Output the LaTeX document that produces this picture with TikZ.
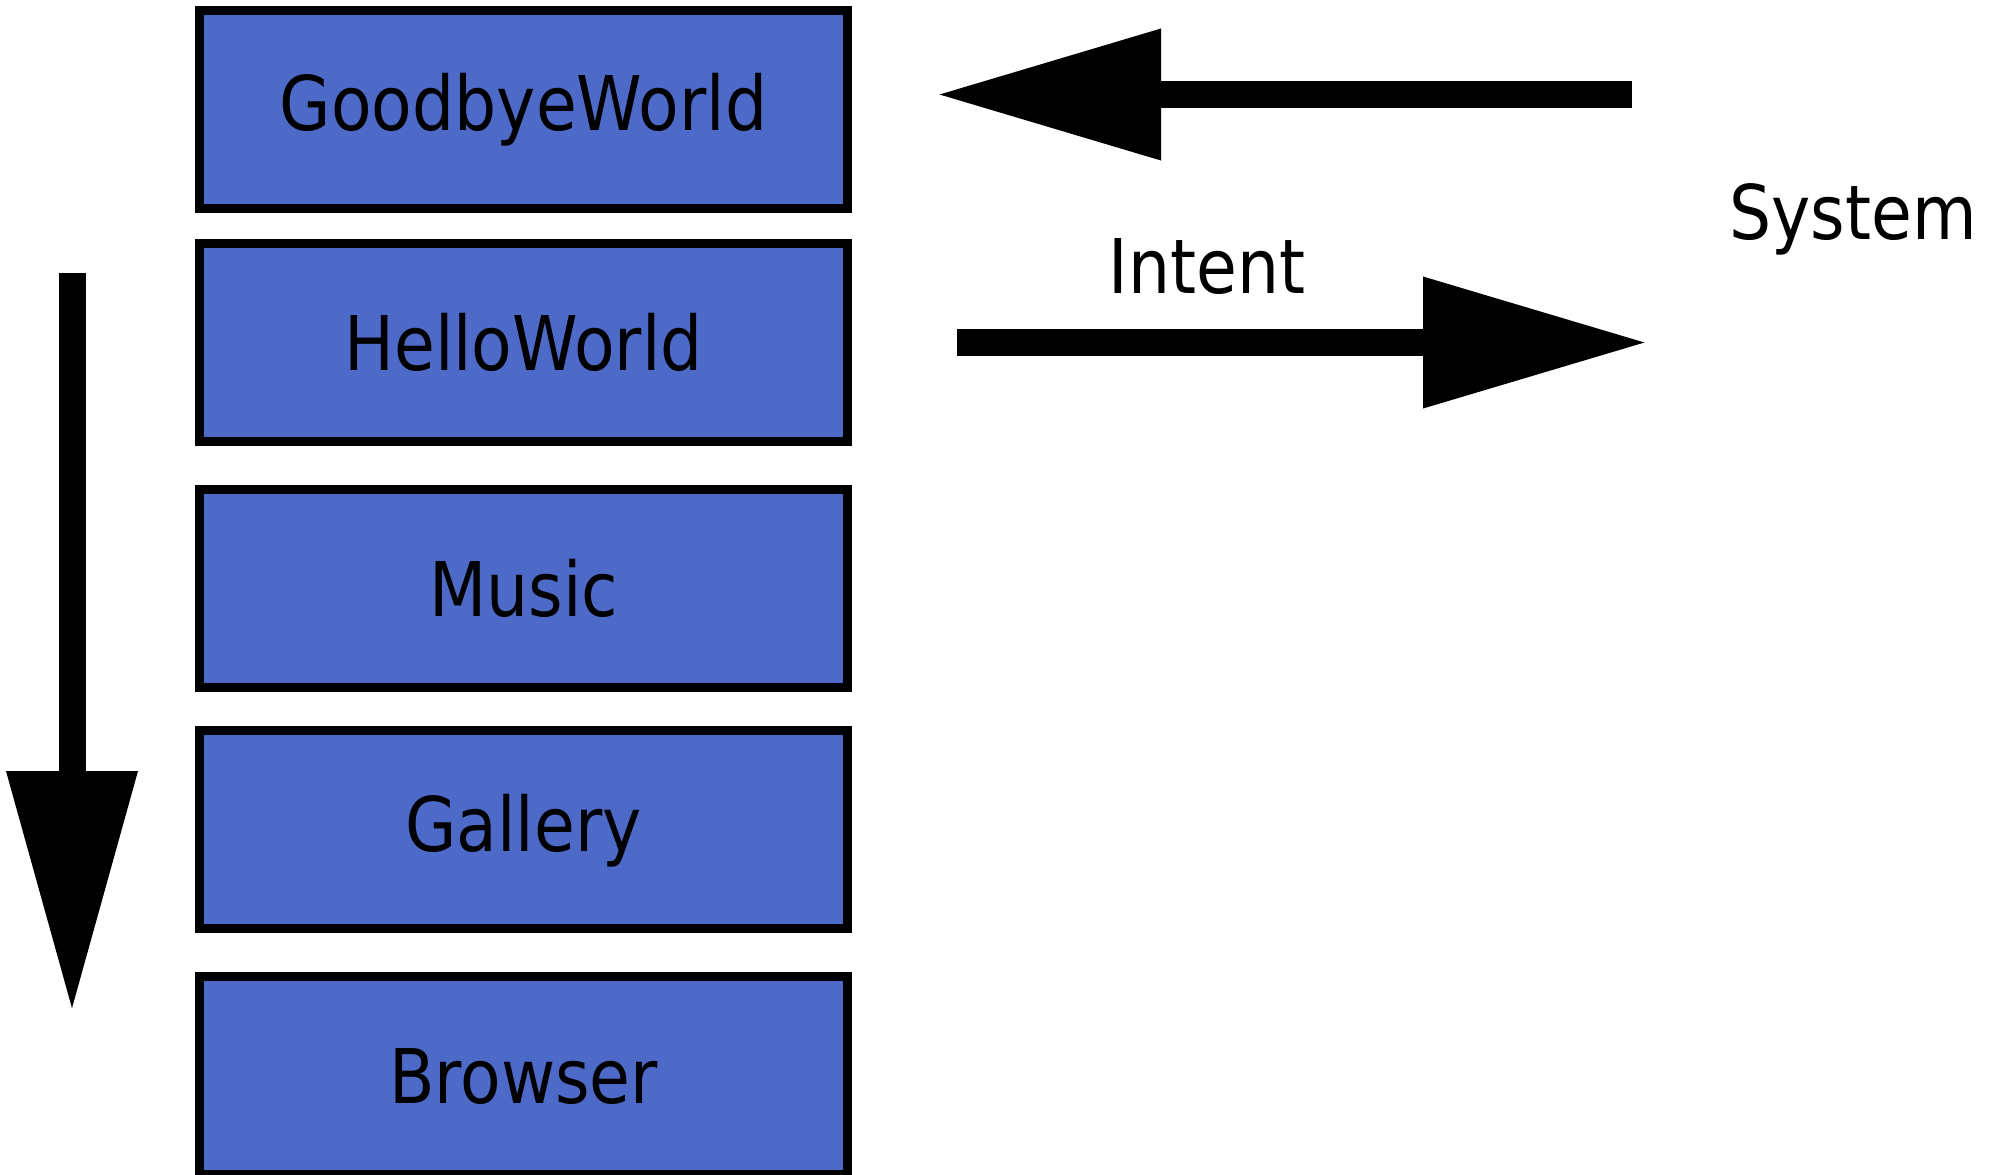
\documentclass[tikz,border=0pt]{standalone}
\usepackage{fontspec}
\setmainfont{DejaVu Sans}[FakeStretch=0.88]
\usetikzlibrary{arrows.meta}
\definecolor{boxblue}{RGB}{78,106,200}
\begin{document}
\begin{tikzpicture}[x=0.5pt,y=-0.5pt,
  box/.style={draw=black, line width=4.5pt, fill=boxblue, minimum width=324pt, minimum height=99pt, inner sep=0pt, outer sep=0pt},
  lbl/.style={anchor=base, inner sep=0pt, outer sep=0pt, font=\fontsize{37.7pt}{40pt}\selectfont},
  bigarrow/.style={line width=13.5pt, line cap=butt, -{Triangle[length=112.5pt,width=62pt]}},
  downarrow/.style={line width=13.5pt, line cap=butt, -{Triangle[length=120.5pt,width=62pt]}}]
\clip (0,0) rectangle (1995,1174);
\fill[white] (0,0) rectangle (1995,1174);
% boxes
\node[box] (b1) at (523.5,109.5) {};
\node[box] (b2) at (523.5,342.5) {};
\node[box] (b3) at (523.5,588) {};
\node[box] (b4) at (523.5,829.5) {};
\node[box] (b5) at (523.5,1075.5) {};
% labels
\node[lbl] (t1) at (523.5,130) {GoodbyeWorld};
\node[lbl] (t2) at (523.5,370) {HelloWorld};
\node[lbl] (t3) at (523.5,616) {Music};
\node[lbl] (t4) at (523.5,851) {Gallery};
\node[lbl] (t5) at (523.5,1103) {Browser};
\node[lbl] (intent) at (1207,293) {Intent};
\node[lbl] (system) at (1853,239) {System};
% arrow end points
\coordinate (ua) at (1632,94.5);
\coordinate (ub) at (936,94.5);
\coordinate (la) at (957,342.5);
\coordinate (lb) at (1648,342.5);
\coordinate (da) at (72,273);
\coordinate (db) at (72,1012);
\draw[bigarrow] (ua) -- (ub);
\draw[bigarrow] (la) -- (lb);
\draw[downarrow] (da) -- (db);
\end{tikzpicture}
\end{document}
